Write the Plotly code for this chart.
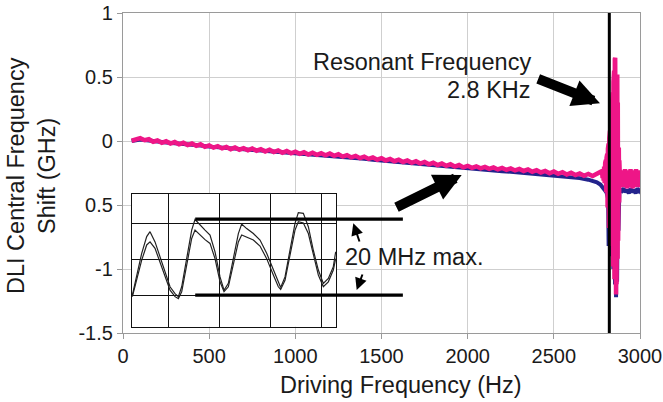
import plotly.graph_objects as go

# ---------------- data ----------------
# Pink trace (main measurement), trend part: 50 .. 2775 Hz every 25 Hz
pink_trend_hz = list(range(50, 2776, 25))
pink_trend_ghz = [
    0.002, 0.016, 0.022, 0.006, 0.014, -0.006, 0.004, -0.014, -0.002, -0.020,
    -0.008, -0.026, -0.014, -0.032, -0.020, -0.038, -0.026, -0.046, -0.034, -0.052,
    -0.040, -0.058, -0.046, -0.064, -0.050, -0.068, -0.056, -0.072, -0.058, -0.076,
    -0.064, -0.082, -0.068, -0.086, -0.074, -0.092, -0.078, -0.096, -0.084, -0.100,
    -0.088, -0.106, -0.092, -0.108, -0.096, -0.112, -0.098, -0.116, -0.104, -0.122,
    -0.110, -0.128, -0.116, -0.134, -0.122, -0.140, -0.128, -0.146, -0.134, -0.152,
    -0.140, -0.158, -0.146, -0.164, -0.152, -0.170, -0.158, -0.176, -0.164, -0.182,
    -0.170, -0.188, -0.176, -0.194, -0.182, -0.200, -0.188, -0.206, -0.194, -0.210,
    -0.198, -0.214, -0.202, -0.218, -0.206, -0.222, -0.210, -0.226, -0.214, -0.230,
    -0.218, -0.234, -0.222, -0.240, -0.228, -0.246, -0.234, -0.252, -0.238, -0.256,
    -0.244, -0.262, -0.248, -0.266, -0.254, -0.272, -0.258, -0.274, -0.253, -0.238,
]
# Pink trace around and after the resonance
pink_res_hz = [
    2780, 2783, 2786, 2789, 2792, 2795, 2798, 2800, 2802, 2804,
    2806, 2808, 2810, 2812, 2814, 2816, 2818, 2820, 2822, 2824,
    2826, 2828, 2830, 2832, 2834, 2836, 2838, 2840, 2842, 2844,
    2846, 2848, 2850, 2852, 2854, 2855, 2856, 2858, 2859, 2861,
    2862, 2864, 2865, 2867, 2868, 2870, 2871, 2873, 2874, 2876,
    2877, 2879, 2880, 2882, 2883, 2885,
    2889, 2893, 2897, 2901, 2905, 2909, 2913, 2917, 2921, 2925,
    2929, 2933, 2937, 2941, 2945, 2949, 2953, 2957, 2961, 2965,
    2969, 2973, 2977, 2981, 2985, 2989, 2993, 2997, 3000,
]
pink_res_ghz = [
    -0.24, -0.29, -0.22, -0.31, -0.20, -0.33, -0.17, -0.36, -0.15, -0.40,
    -0.13, -0.46, -0.10, -0.52, -0.06, -0.60, -0.02, -0.68, 0.02, -0.74,
    0.08, -0.78, 0.14, -0.80, 0.22, -0.82, 0.30, -0.90, 0.38, -0.98,
    0.46, -1.03, 0.55, -1.08, 0.64, -1.12, 0.65, -1.16, 0.50, -1.20,
    0.42, -1.12, 0.50, -1.06, 0.52, -0.92, 0.30, -0.78, 0.10, -0.62,
    -0.05, -0.48, -0.15, -0.40, -0.22, -0.36,
    -0.24, -0.35, -0.23, -0.36, -0.25, -0.34, -0.22, -0.36, -0.24, -0.37,
    -0.23, -0.35, -0.25, -0.36, -0.22, -0.35, -0.24, -0.37, -0.23, -0.34,
    -0.25, -0.36, -0.22, -0.35, -0.24, -0.36, -0.23, -0.34, -0.25,
]

# Blue trace (second measurement), mostly hidden under the pink one
blue_trend_hz = list(range(50, 2751, 50))
blue_trend_ghz = [
    0.000, 0.012, 0.004, -0.006, -0.012, -0.018, -0.022, -0.028, -0.036, -0.044,
    -0.048, -0.054, -0.060, -0.066, -0.070, -0.075, -0.080, -0.085, -0.090, -0.095,
    -0.100, -0.104, -0.108, -0.112, -0.118, -0.124, -0.130, -0.138, -0.146, -0.152,
    -0.158, -0.164, -0.170, -0.176, -0.182, -0.190, -0.196, -0.204, -0.212, -0.218,
    -0.222, -0.226, -0.232, -0.236, -0.240, -0.246, -0.250, -0.256, -0.262, -0.266,
    -0.272, -0.280, -0.290, -0.302, -0.322,
]
blue_res_hz = [
    2770, 2790, 2805, 2815, 2818, 2822, 2826, 2830, 2835, 2840, 2845, 2850,
    2855, 2858, 2861, 2864, 2867, 2871, 2875, 2880, 2885,
    2895, 2905, 2915, 2925, 2935, 2945, 2955, 2965, 2975, 2985, 2995, 3000,
]
blue_res_ghz = [
    -0.34, -0.37, -0.40, -0.45, -0.82, -0.30, -0.85, -0.30, -0.90, -0.30, -1.00, -0.30,
    -1.12, -0.30, -1.22, -0.30, -1.10, -0.40, -0.70, -0.40, -0.38,
    -0.39, -0.37, -0.40, -0.38, -0.41, -0.37, -0.40, -0.38, -0.41, -0.37, -0.39, -0.38,
]

resonance_hz = 2822          # vertical marker line
y_range = [-1.5, 1.0]
x_range = [0, 3000]
y_tickvals = [1, 0.5, 0, -0.5, -1, -1.5]
y_ticktext = ["1", "0.5", "0", "0.5", "-1", "-1.5"]
x_tickvals = [0, 500, 1000, 1500, 2000, 2500, 3000]

# Inset: time trace at 2.8 kHz drive (arbitrary sample units, MHz shift)
inset_t = [97, 110, 125, 140, 150, 165, 180, 195, 210, 225, 235, 245, 260, 275, 285,
           300, 315, 330, 345, 360, 372, 385, 400, 415, 425, 440, 460, 480, 500, 520,
           535, 542, 555, 570, 585, 595, 610, 625, 640, 655, 670, 685, 700, 707]
inset_upper_mhz = [0.0, 4.8, 11.0, 15.4, 16.7, 14.0, 10.1, 5.7, 2.2, 0.4, -0.4, 2.2, 10.1, 17.1, 19.9,
                   18.4, 17.1, 15.8, 11.4, 4.8, 1.3, 3.1, 9.2, 16.2, 18.7, 17.5, 16.2, 14.5, 11.0, 6.6,
                   3.1, 2.0, 4.8, 11.8, 18.9, 21.7, 21.5, 18.0, 11.8, 6.6, 3.1, 4.4, 7.5, 11.4]
inset_lower_mhz = [-0.4, 3.9, 9.2, 13.2, 14.0, 12.3, 8.8, 4.8, 1.3, -0.4, -0.9, 0.9, 8.3, 14.9, 17.1,
                   15.8, 14.6, 13.6, 9.6, 3.5, 0.9, 2.2, 7.9, 14.0, 15.8, 15.3, 14.5, 12.9, 9.6, 5.3,
                   2.2, 1.5, 3.9, 10.5, 17.1, 19.3, 19.0, 16.2, 10.5, 5.3, 2.2, 3.5, 6.6, 9.6]
inset_x_range = [95, 708]
inset_y_range = [-8.3, 26.6]
inset_x_grid = [205, 358, 511, 663]
inset_y_grid = [0, 9.5, 18.9]
span_levels_mhz = [20, 0]          # the "20 MHz max." bars
span_bar_hz = [419, 1624]          # horizontal extent of those bars (main x axis)

# ---------------- styling ----------------
FONT = "Liberation Sans, Arial, sans-serif"
TXT = "#1a1a1a"
PINK = "#ee1687"
BLUE = "#23238c"
GRID = "#cfcfcf"
AXL = "#9a9a9a"

fig = go.Figure()

fig.add_trace(go.Scatter(x=blue_trend_hz + blue_res_hz, y=blue_trend_ghz + blue_res_ghz,
                         mode="lines", line=dict(color=BLUE, width=4),
                         hoverinfo="skip", showlegend=False))
fig.add_trace(go.Scatter(x=pink_trend_hz + pink_res_hz, y=pink_trend_ghz + pink_res_ghz,
                         mode="lines", line=dict(color=PINK, width=4.5),
                         hoverinfo="skip", showlegend=False))
fig.add_trace(go.Scatter(x=[resonance_hz, resonance_hz], y=y_range,
                         mode="lines", line=dict(color="black", width=3),
                         hoverinfo="skip", showlegend=False))

# inset traces
fig.add_trace(go.Scatter(x=inset_t, y=inset_upper_mhz, xaxis="x2", yaxis="y2", mode="lines",
                         line=dict(color="#222", width=1.2), hoverinfo="skip", showlegend=False))
fig.add_trace(go.Scatter(x=inset_t, y=inset_lower_mhz, xaxis="x2", yaxis="y2", mode="lines",
                         line=dict(color="#222", width=1.2), hoverinfo="skip", showlegend=False))

W, H = 663, 402
ml, mr, mt, mb = 123, 23, 13, 69
pw, ph = W - ml - mr, H - mt - mb


def px_x(px):
    return (px - ml) / pw


def px_y(py):
    return (H - mb - py) / ph


fig.update_layout(
    width=W, height=H,
    margin=dict(l=ml, r=mr, t=mt, b=mb, autoexpand=False),
    paper_bgcolor="white", plot_bgcolor="white",
    font=dict(family=FONT, color=TXT, size=20),
    xaxis=dict(range=x_range, tickvals=x_tickvals, showgrid=True, gridcolor=GRID, gridwidth=1,
               showline=True, linecolor=AXL, linewidth=1.2, mirror=True, automargin=False,
               ticks="outside", ticklen=5, tickcolor=AXL, zeroline=False,
               tickfont=dict(size=20, color=TXT)),
    yaxis=dict(range=y_range, tickvals=y_tickvals, ticktext=y_ticktext, showgrid=True,
               gridcolor=GRID, gridwidth=1, showline=True, linecolor=AXL, linewidth=1.2,
               mirror=True, ticks="outside", ticklen=5, tickcolor=AXL, zeroline=False,
               automargin=False, tickfont=dict(size=20, color=TXT)),
    xaxis2=dict(domain=[px_x(131.7), px_x(336)], anchor="y2", range=inset_x_range,
                tickvals=inset_x_grid, showticklabels=False, showgrid=True, gridcolor="#111",
                gridwidth=1, showline=True, linecolor="#111", linewidth=1.3, mirror=True,
                zeroline=False, ticks="", automargin=False),
    yaxis2=dict(domain=[px_y(326.7), px_y(194)], anchor="x2", range=inset_y_range,
                tickvals=inset_y_grid, showticklabels=False, showgrid=True, gridcolor="#111",
                gridwidth=1, showline=True, linecolor="#111", linewidth=1.3, mirror=True,
                zeroline=False, ticks="", automargin=False),
)

for lvl in span_levels_mhz:
    fig.add_shape(type="line", xref="x", yref="y2", x0=span_bar_hz[0], x1=span_bar_hz[1],
                  y0=lvl, y1=lvl, line=dict(color="black", width=3.2), layer="above")

annots = [
    dict(text="Resonant Frequency", x=px_x(421.5), y=px_y(61.7), xanchor="center", yanchor="middle",
         font=dict(size=23.5)),
    dict(text="2.8 KHz", x=px_x(533), y=px_y(90), xanchor="right", yanchor="middle",
         font=dict(size=23.5)),
    dict(text="20 MHz max.", x=px_x(414), y=px_y(257), xanchor="center", yanchor="middle",
         font=dict(size=23.5)),
    dict(text="Driving Frequency (Hz)", x=px_x(401), y=px_y(385), xanchor="center", yanchor="middle",
         font=dict(size=23.5)),
    dict(text="DLI Central Frequency<br>Shift (GHz)", x=px_x(31), y=px_y(176), xanchor="center",
         yanchor="middle", textangle=-90, font=dict(size=23.5)),
]
for a in annots:
    fig.add_annotation(xref="paper", yref="paper", showarrow=False, **a)

# arrows: (tip_px, tail_px, width, headsize)
arrows = [
    ((461.7, 175), (395, 208), 10, 0.55),
    ((600, 103.3), (536.7, 78.3), 10, 0.55),
    ((353.3, 223.3), (360, 243), 2, 1.2),
    ((356.7, 290), (363, 273), 2, 1.2),
]
for (tx, ty), (sx, sy), w, hs in arrows:
    fig.add_annotation(xref="paper", yref="paper", x=px_x(tx), y=px_y(ty), ax=sx - tx, ay=sy - ty,
                       text="", showarrow=True, arrowhead=2, arrowwidth=w, arrowsize=hs,
                       arrowcolor="black", standoff=0)

fig.write_html("out.html")
